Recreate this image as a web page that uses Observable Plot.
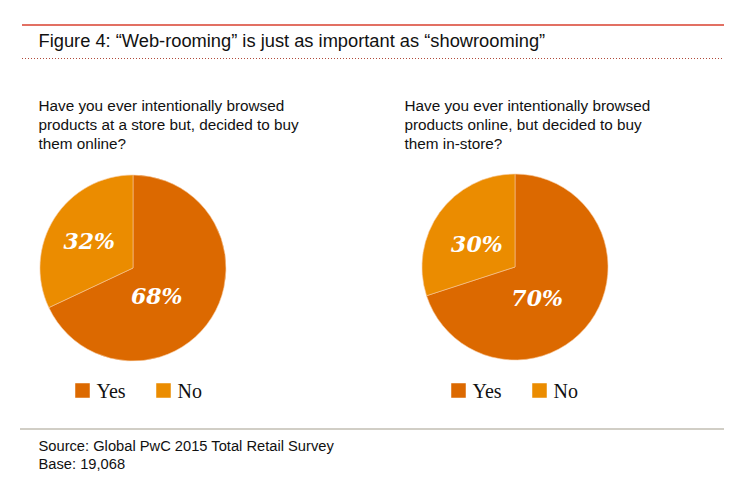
<!DOCTYPE html>
<html><head><meta charset="utf-8">
<script src="https://cdn.jsdelivr.net/npm/d3@7"></script>
<script src="https://cdn.jsdelivr.net/npm/@observablehq/plot@0.6"></script>
<style>body{margin:0;background:#fff;} #chart svg{display:block;}</style>
</head><body><div id="chart"></div>
<script>
// ---- data ----
const categories = ["Yes", "No"];
const categoryColors = ["#dc6900", "#eb8c00"];
const leftValues = [68, 32];
const rightValues = [70, 30];
const questions = [
  "Have you ever intentionally browsed\nproducts at a store but, decided to buy\nthem online?",
  "Have you ever intentionally browsed\nproducts online, but decided to buy\nthem in-store?"
];
const titleText = "Figure 4: \u201cWeb-rooming\u201d is just as important as \u201cshowrooming\u201d";
const sourceLines = ["Source: Global PwC 2015 Total Retail Survey", "Base: 19,068"];

// ---- layout ----
const W = 749, H = 489, R = 93;
const pies = [
  {cx: 133, cy: 268, values: leftValues, qx: 38, lx: 82, nx: 163},
  {cx: 515, cy: 267, values: rightValues, qx: 404, lx: 458, nx: 539}
];

const slices = pies.flatMap((p, pi) => {
  const arcs = d3.pie().sort(null)(p.values);
  return arcs.map((a, i) => ({
    pie: pi, cat: categories[i], value: p.values[i],
    startAngle: a.startAngle, endAngle: a.endAngle, cx: p.cx, cy: p.cy
  }));
});
const labelArc = d3.arc().innerRadius(0).outerRadius(R);
const labels = slices.map(s => {
  const [x, y] = labelArc.centroid(s);
  const adj = s.cat === "Yes" ? [-16, 4] : (s.pie === 0 ? [-5, -2] : [-1, 5]);
  return {...s, x: s.cx + x + adj[0], y: s.cy + y + adj[1], text: s.value + "%"};
});
const legend = pies.flatMap(p => categories.map((c, i) => ({cat: c, x: i === 0 ? p.lx : p.nx, y: 390})));

function pieMark(index, scales) {
  const g = d3.create("svg:g");
  const arc = d3.arc().innerRadius(0).outerRadius(R);
  for (const s of slices) {
    g.append("path")
      .attr("transform", `translate(${scales.x(s.cx)},${scales.y(s.cy)})`)
      .attr("d", arc(s))
      .attr("fill", scales.color(s.cat))
      .attr("stroke", "#f6c89a")
      .attr("stroke-width", 0.6);
  }
  return g.node();
}

const sans = "'Liberation Sans', Arial, sans-serif";
const chart = Plot.plot({
  width: W, height: H, margin: 0,
  x: {domain: [0, W], range: [0, W], axis: null},
  y: {domain: [0, H], range: [0, H], axis: null},
  color: {domain: categories, range: categoryColors},
  style: {background: "#fff"},
  marks: [
    Plot.ruleY([24.5], {x1: 22, x2: 724, stroke: "#d8402f", strokeWidth: 1.3}),
    Plot.text([titleText], {x: 38, y: 41, text: d => d, textAnchor: "start", fontSize: 18.3, fontFamily: sans, fill: "#111"}),
    Plot.ruleY([58], {x1: 22, x2: 724, stroke: "#b04a3a", strokeWidth: 1, strokeDasharray: "1,2"}),
    Plot.text(pies.map((p, i) => ({x: p.qx, q: questions[i]})), {x: "x", y: 97, text: "q", textAnchor: "start", lineAnchor: "top", lineHeight: 1.24, fontSize: 15.3, fontFamily: sans, fill: "#111"}),
    pieMark,
    Plot.text(labels, {x: "x", y: "y", text: "text", fill: "#fff", fontSize: 22, fontWeight: "bold", fontStyle: "italic", fontFamily: "'DejaVu Serif', serif"}),
    Plot.dot(legend, {x: "x", y: "y", fill: "cat", symbol: "square", r: 8.2}),
    Plot.text(legend, {x: d => d.x + 14, y: d => d.y + 1.5, text: "cat", textAnchor: "start", fontSize: 20, fontFamily: "'Liberation Serif', serif", fill: "#111"}),
    Plot.ruleY([428.5], {x1: 20, x2: 724, stroke: "#a39d8c", strokeWidth: 1}),
    Plot.text([sourceLines.join("\n")], {x: 38, y: 438, text: d => d, textAnchor: "start", lineAnchor: "top", lineHeight: 1.22, fontSize: 14.7, fontFamily: sans, fill: "#111"})
  ]
});
document.getElementById("chart").append(chart);
</script>
</body></html>
